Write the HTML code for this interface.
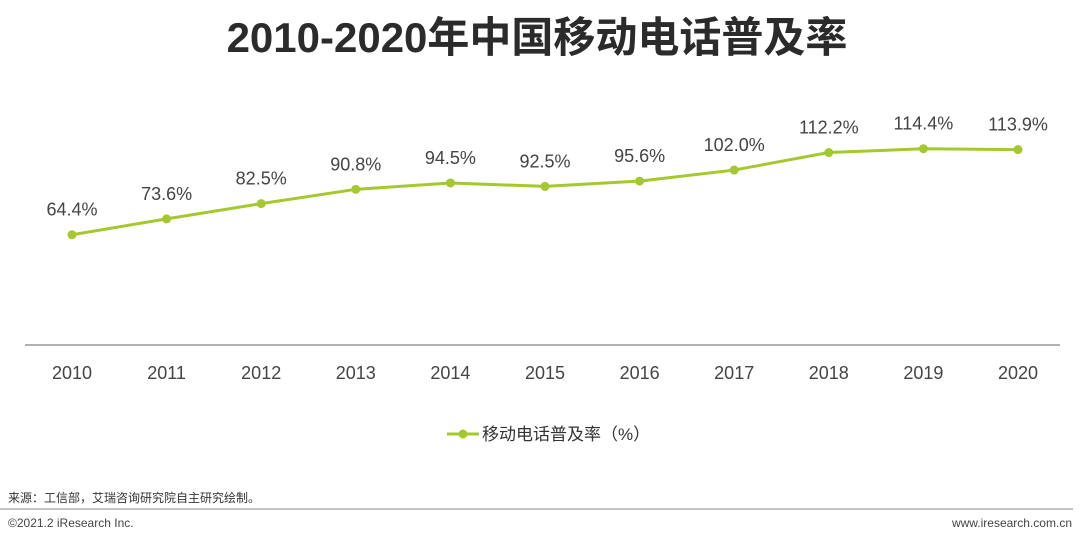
<!DOCTYPE html>
<html><head><meta charset="utf-8">
<style>
body{margin:0;width:1080px;height:543px;background:#fff;overflow:hidden;font-family:"Liberation Sans","Noto Sans CJK SC",sans-serif;}
svg{display:block}
</style></head>
<body>
<svg id="chart" width="1080" height="543">
<text x="537" y="52" text-anchor="middle" font-size="42" font-weight="bold" fill="#2b2b2b" font-family="Liberation Sans, Noto Sans CJK SC, sans-serif">2010-2020年中国移动电话普及率</text>
<line x1="25" y1="345" x2="1060" y2="345" stroke="#999" stroke-width="1.5"/>
<g id="marks"></g>
<g>
<line x1="447" y1="434" x2="479" y2="434" stroke="#a5c82e" stroke-width="3"/>
<circle cx="463" cy="434" r="4.5" fill="#a5c82e"/>
<text x="482" y="440" font-size="17" fill="#333">移动电话普及率（%）</text>
</g>
<text x="8" y="502" font-size="12" fill="#333">来源：工信部，艾瑞咨询研究院自主研究绘制。</text>
<line x1="0" y1="509" x2="1073" y2="509" stroke="#888" stroke-width="1"/>
<text x="8" y="527" font-size="12" fill="#444">©2021.2 iResearch Inc.</text>
<text x="1072" y="527" font-size="12" fill="#444" text-anchor="end">www.iresearch.com.cn</text>
</svg>
<script>
const years=["2010","2011","2012","2013","2014","2015","2016","2017","2018","2019","2020"];
const values=[64.4,73.6,82.5,90.8,94.5,92.5,95.6,102.0,112.2,114.4,113.9];
const valueLabels=["64.4%","73.6%","82.5%","90.8%","94.5%","92.5%","95.6%","102.0%","112.2%","114.4%","113.9%"];
const NS="http://www.w3.org/2000/svg";
function xPos(i){return 72+i*94.6;}
function yPos(v){return 345.5-v*1.72;}
const g=document.getElementById('marks');
const pts=values.map((v,i)=>xPos(i)+","+yPos(v)).join(" ");
const pl=document.createElementNS(NS,'polyline');
pl.setAttribute('points',pts);pl.setAttribute('fill','none');pl.setAttribute('stroke','#a5c82e');pl.setAttribute('stroke-width','3');


g.appendChild(pl);
values.forEach((v,i)=>{
const c=document.createElementNS(NS,'circle');
c.setAttribute('cx',xPos(i));c.setAttribute('cy',yPos(v));c.setAttribute('r','4.5');c.setAttribute('fill','#a5c82e');


g.appendChild(c);
const t=document.createElementNS(NS,'text');
t.setAttribute('x',xPos(i));t.setAttribute('y',yPos(v)-19);t.setAttribute('text-anchor','middle');t.setAttribute('font-size','18');t.setAttribute('fill','#444');
t.textContent=valueLabels[i];


g.appendChild(t);
const yl=document.createElementNS(NS,'text');
yl.setAttribute('x',xPos(i));yl.setAttribute('y',379);yl.setAttribute('text-anchor','middle');yl.setAttribute('font-size','18');yl.setAttribute('fill','#444');
yl.textContent=years[i];


g.appendChild(yl);
});
</script>
</body></html>
